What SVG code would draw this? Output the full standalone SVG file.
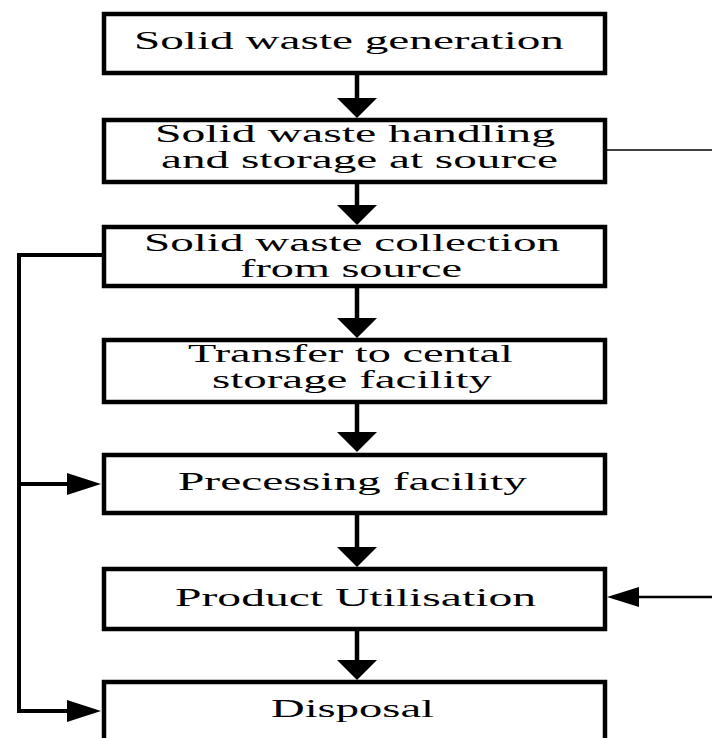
<svg xmlns="http://www.w3.org/2000/svg" width="712" height="738" viewBox="0 0 712 738">
<style>
.box{fill:#fff;stroke:#000;stroke-width:4.5}
.t{font-family:"Liberation Serif","Times New Roman",serif;font-size:25px;fill:#000}
.ln{stroke:#000;fill:none}
.hd{fill:#000}
</style>
<rect width="712" height="738" fill="#fff"/>
<g id="connectors">
  <line class="ln" x1="357" y1="74" x2="357" y2="100" stroke-width="4.5"/>
  <polygon class="hd" points="337,98 377,98 357,118"/>
  <line class="ln" x1="357" y1="183" x2="357" y2="207" stroke-width="4.5"/>
  <polygon class="hd" points="337,205 377,205 357,225"/>
  <line class="ln" x1="357" y1="287" x2="357" y2="320" stroke-width="4.5"/>
  <polygon class="hd" points="337,318 377,318 357,338"/>
  <line class="ln" x1="357" y1="403" x2="357" y2="434" stroke-width="4.5"/>
  <polygon class="hd" points="337,432 377,432 357,452"/>
  <line class="ln" x1="357" y1="514" x2="357" y2="549" stroke-width="4.5"/>
  <polygon class="hd" points="337,547 377,547 357,567"/>
  <line class="ln" x1="357" y1="630" x2="357" y2="662" stroke-width="4.5"/>
  <polygon class="hd" points="337,660 377,660 357,680"/>
  <polyline class="ln" points="102,255 19,255 19,711 70,711" stroke-width="4"/>
  <line class="ln" x1="19" y1="484" x2="70" y2="484" stroke-width="4"/>
  <polygon class="hd" points="67,473 101,484 67,495"/>
  <polygon class="hd" points="67,700 101,711 67,722"/>
  <line class="ln" x1="607" y1="150" x2="712" y2="150" stroke-width="1.6"/>
  <line class="ln" x1="636" y1="597" x2="712" y2="597" stroke-width="2.5"/>
  <polygon class="hd" points="607,597 639,587 639,607"/>
</g>
<g id="n1">
  <rect class="box" x="104" y="14" width="501" height="59"/>
  <text class="t" x="134" y="49" textLength="430" lengthAdjust="spacingAndGlyphs">Solid waste generation</text>
</g>
<g id="n2">
  <rect class="box" x="104" y="120" width="501" height="62"/>
  <text class="t" x="155" y="142" textLength="400" lengthAdjust="spacingAndGlyphs">Solid waste handling</text>
  <text class="t" x="161" y="168" textLength="397" lengthAdjust="spacingAndGlyphs">and storage at source</text>
</g>
<g id="n3">
  <rect class="box" x="104" y="227" width="501" height="59"/>
  <text class="t" x="144" y="251" textLength="416" lengthAdjust="spacingAndGlyphs">Solid waste collection</text>
  <text class="t" x="240" y="277" textLength="222" lengthAdjust="spacingAndGlyphs">from source</text>
</g>
<g id="n4">
  <rect class="box" x="104" y="340" width="501" height="62"/>
  <text class="t" x="188" y="362" textLength="325" lengthAdjust="spacingAndGlyphs">Transfer to cental</text>
  <text class="t" x="212" y="388" textLength="280" lengthAdjust="spacingAndGlyphs">storage facility</text>
</g>
<g id="n5">
  <rect class="box" x="104" y="455" width="501" height="58"/>
  <text class="t" x="178" y="490" textLength="349" lengthAdjust="spacingAndGlyphs">Precessing facility</text>
</g>
<g id="n6">
  <rect class="box" x="104" y="569" width="501" height="60"/>
  <text class="t" x="175" y="606" textLength="361" lengthAdjust="spacingAndGlyphs">Product Utilisation</text>
</g>
<g id="n7">
  <rect class="box" x="104" y="682" width="501" height="80"/>
  <text class="t" x="271" y="717" textLength="163" lengthAdjust="spacingAndGlyphs">Disposal</text>
</g>
</svg>
